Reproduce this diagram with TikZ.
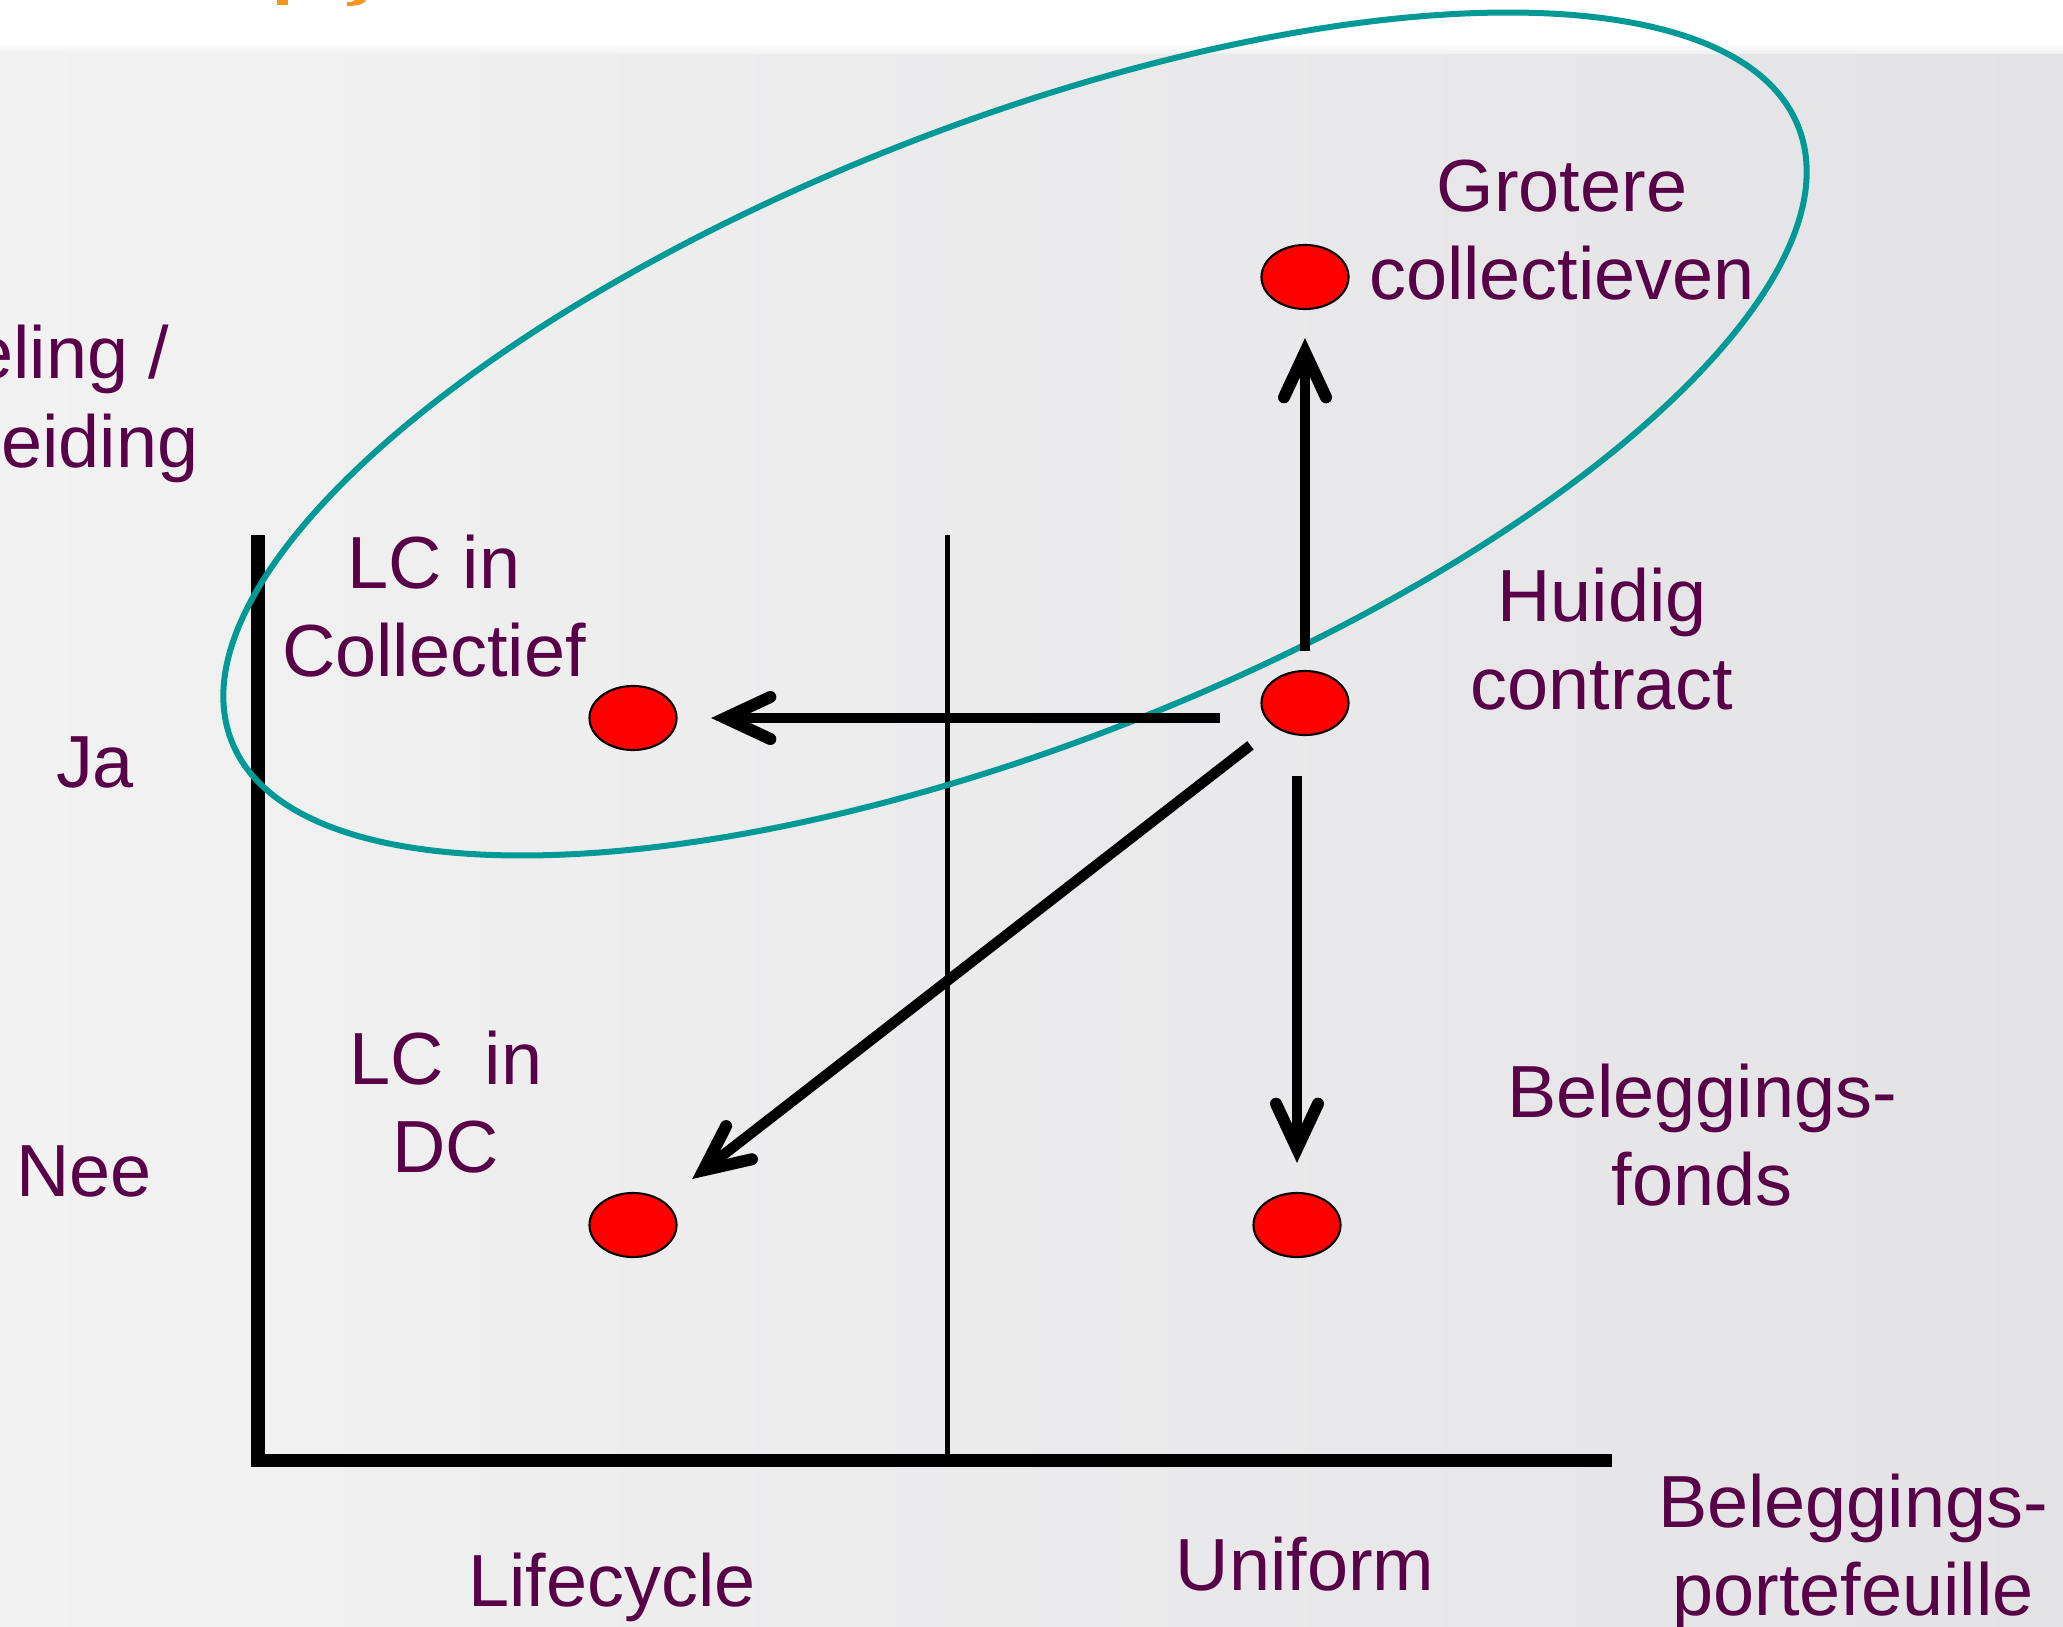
\documentclass[tikz,border=0pt]{standalone}
\usepackage{fontspec}
\setmainfont{Liberation Sans}
\usetikzlibrary{calc,shapes,arrows.meta}

\definecolor{paars}{RGB}{88,0,72}
\definecolor{ovaal}{RGB}{0,153,150}
\definecolor{oranje}{RGB}{247,148,29}
\definecolor{bglinks}{RGB}{242,242,242}
\definecolor{bgrechts}{RGB}{227,227,230}

\tikzset{
	dot/.style={ellipse, draw=black, line width=0.6pt, fill=red, minimum width=0.87cm, minimum height=0.64cm, inner sep=0pt},
	lbl/.style={text=paars, align=center, font=\fontsize{21}{25}\selectfont},
	pijl/.style={line width=0.105cm, -{Straight Barb[length=0.45cm, width=0.42cm, line width=0.12cm, line cap=round, line join=miter]}},
	as/.style={line width=0.13cm}
}

\begin{document}
\begin{tikzpicture}[x=0.01cm, y=-0.01cm]
		\useasboundingbox (0, 0) rectangle (2063, 1627);
		% achtergrond
		\fill[white] (0, 0) rectangle (2063, 1627);
		\shade[left color=bglinks, right color=bgrechts] (0, 52) rectangle (2063, 1627);
		\shade[top color=white, bottom color=bglinks] (0, 42) rectangle (2063, 53);
		\fill[oranje] (277, 0) rectangle (288, 5);
		\fill[oranje] (347, 6) .. controls (360, 6) and (365, 3) .. (366, 0) -- (355, 0) .. controls (354, 2) and (351, 2) .. (347, 2) -- cycle;

		% assen
		\draw[as] (258, 535) -- (258, 1460) -- (1612, 1460);
		\draw[line width=0.05cm] (947, 535) -- (947, 1460);

		% ovaal
		\draw[ovaal, line width=0.06cm, rotate around={21.4:(1015, 434)}] (1015, 434) ellipse [x radius=8.41cm, y radius=3.1cm];

		% punten
		\draw (1305, 277) node[dot] (grot)    {};
		\draw (1305, 703) node[dot] (huid)    {};
		\draw (633, 718) node[dot] (lccol)    {};
		\draw (633, 1225) node[dot] (lcdc)    {};
		\draw (1297, 1225) node[dot] (fonds)    {};

		\draw[pijl, shorten <=0.185cm, shorten >=0.28cm] (huid) -- (grot);
		\draw[pijl, shorten <=0.405cm, shorten >=0.335cm] (huid.west |- lccol.east) -- (lccol.east);
		\draw[pijl, shorten <=0.3cm, shorten >=0.36cm] (huid) -- (lcdc);
		\draw[pijl, shorten <=0.4cm, shorten >=0.29cm] (fonds |- huid.south) -- (fonds);

		% teksten
		\draw (1562, 230) node[lbl] (tgrot)    {Grotere\\collectieven};
		\draw (1602, 639) node[lbl] (thuid)    {Huidig\\contract};
		\draw (434, 606) node[lbl] (tlccol)    {LC in\\Collectief};
		\draw (446, 1102) node[lbl] (tlcdc)    {LC\ \ in\\DC};
		\draw (1702, 1135) node[lbl] (tfonds)    {Beleggings-\\fonds};
		\draw (95, 762) node[lbl] (tja)    {Ja};
		\draw (84, 1171) node[lbl] (tnee)    {Nee};
		\draw (612, 1587) node[lbl] (tlife)    {Lifecycle};
		\draw (1305, 1564) node[lbl] (tuni)    {Uniform};
		\draw (1853, 1552) node[lbl] (tport)    {Beleggings-\\portefeuille};
		\draw (170, 378) node[lbl, anchor=base east, inner sep=0pt] (trisico)    {Risicodeling /};
		\draw (199, 467) node[lbl, anchor=base east, inner sep=0pt] (tspreid)    {spreiding};
\end{tikzpicture}
\end{document}
